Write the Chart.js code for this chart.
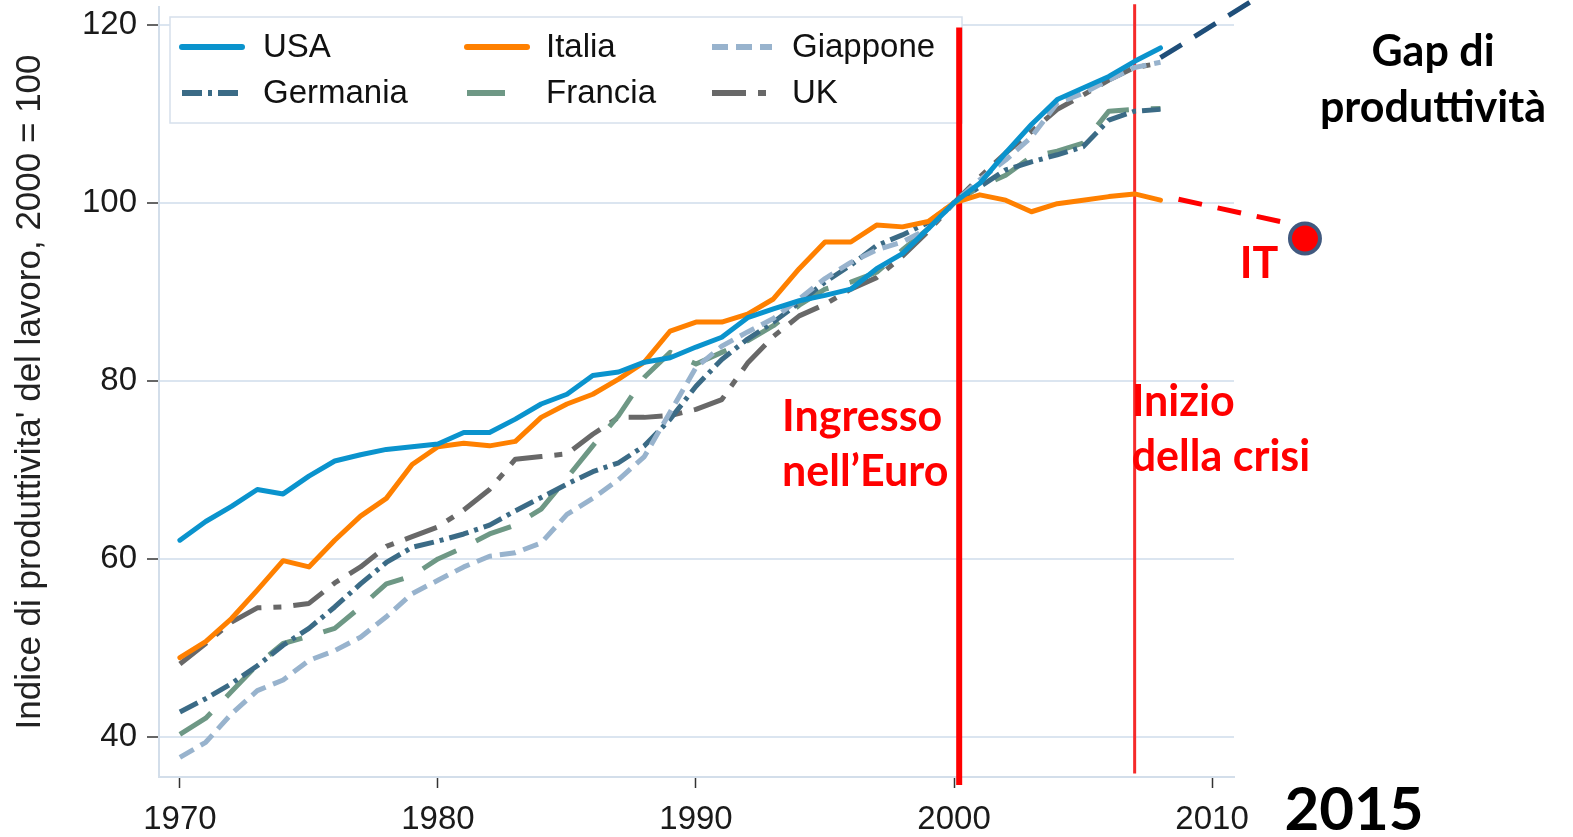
<!DOCTYPE html>
<html><head><meta charset="utf-8">
<script src="https://cdn.jsdelivr.net/npm/chart.js@4.4.1/dist/chart.umd.min.js"></script>
<style>html,body{margin:0;padding:0;background:#fff}#wrap{width:1573px;height:837px;position:relative}</style>
</head><body><div id="wrap"><canvas id="c"></canvas></div>
<script>
// ---- data ----
const years = [1970,1971,1972,1973,1974,1975,1976,1977,1978,1979,1980,1981,1982,1983,1984,1985,1986,1987,1988,1989,1990,1991,1992,1993,1994,1995,1996,1997,1998,1999,2000,2001,2002,2003,2004,2005,2006,2007,2008];
const usa      = [62.1,64.2,65.9,67.8,67.3,69.3,71.0,71.7,72.3,72.6,72.9,74.2,74.2,75.7,77.4,78.5,80.6,81.0,82.1,82.6,83.8,84.9,87.1,88.1,89.0,89.6,90.3,92.6,94.3,97.1,100,102.2,105.6,108.8,111.6,112.9,114.2,115.9,117.4];
const italia   = [48.9,50.7,53.3,56.5,59.8,59.1,62.1,64.8,66.8,70.6,72.6,73.0,72.7,73.2,75.9,77.4,78.5,80.2,82.1,85.6,86.6,86.6,87.5,89.2,92.6,95.6,95.6,97.5,97.3,97.9,100,100.9,100.3,99.0,99.9,100.3,100.7,101.0,100.3];
const giappone = [37.7,39.4,42.6,45.2,46.4,48.6,49.7,51.2,53.5,56.1,57.6,59.1,60.3,60.7,61.8,65.0,66.8,68.9,71.5,76.5,81.5,83.9,85.5,87.0,89.2,91.5,93.3,94.7,95.6,97.1,100,102.6,104.8,107.4,111.2,112.3,113.8,115.2,115.8];
const germania = [42.8,44.3,46.0,48.0,50.3,52.2,54.6,57.2,59.6,61.3,62.0,62.8,63.8,65.4,66.9,68.4,69.8,70.8,72.7,75.7,79.4,82.4,84.7,86.6,88.8,91.1,93.0,95.2,96.4,97.8,100,101.8,103.7,104.6,105.4,106.3,109.3,110.3,110.5];
const francia  = [40.3,42.1,45.1,48.1,50.5,51.3,52.2,54.6,57.2,58.1,60.0,61.3,62.8,63.8,65.6,69.1,72.7,76.1,80.4,83.2,81.9,83.2,84.5,86.2,88.5,90.3,91.1,92.2,94.7,97.1,100,101.8,103.1,105.2,105.8,106.7,110.3,110.5,110.6];
const uk       = [48.2,50.5,52.9,54.5,54.6,55.0,57.3,59.1,61.4,62.5,63.6,65.5,67.8,71.2,71.5,71.8,74.0,75.9,75.9,76.1,76.8,77.9,82.0,85.0,87.3,88.6,90.3,91.6,94.0,96.8,100,102.9,105.6,108.0,110.5,112.1,113.8,115.2,115.7];

const xTicks = [1970,1980,1990,2000,2010];
const yTicks = [40,60,80,100,120];
const yTitle = "Indice di produttivita' del lavoro, 2000 = 100";

// annotation values (data units)
const euroEntryYear = 2000.2, euroSpan = [34.6,119.7];
const crisisYear = 2007, crisisSpan = [35.9,122.3];
const usaTrendX = [2008,2012], usaTrendY = [116.3,123.5];
const itaTrendX = [2008.7,2012.8], itaTrendY = [100.4,97.8];
const itPointX = 2013.6, itPointY = 96.0;
const euroLabel = ['Ingresso','nell\u2019Euro'];
const crisisLabel = ['Inizio','della crisi'];
const gapLabel = ['Gap di','produttivit\u00e0'];
const itLabel = 'IT';
const yearLabel = '2015';

// ---- styling ----
const FONT = "'Liberation Sans', Arial, sans-serif";
const BOLD = "Lato, 'Open Sans', sans-serif";
const series = [
  {name:'USA', values:usa, color:'#0a93cd', dash:[]},
  {name:'Italia', values:italia, color:'#ff8000', dash:[]},
  {name:'Giappone', values:giappone, color:'#98b3cd', dash:[16,8]},
  {name:'Germania', values:germania, color:'#3b6b86', dash:[20,6,4,6]},
  {name:'Francia', values:francia, color:'#6e9885', dash:[38,22]},
  {name:'UK', values:uk, color:'#686868', dash:[34,12,8,12]}
];

const datasets = series.map(s => ({
  label:s.name, inLegend:true,
  data: years.map((y,i)=>({x:y, y:s.values[i]})),
  borderColor:s.color, borderWidth:5, borderDash:s.dash,
  borderCapStyle: s.dash.length ? 'butt' : 'round', borderJoinStyle:'round',
  pointRadius:0, tension:0, fill:false
}));
datasets.push(
  {label:'euro', data:euroSpan.map(v=>({x:euroEntryYear,y:v})), borderColor:'#ff0000', borderWidth:6, pointRadius:0, clip:false},
  {label:'crisi', data:crisisSpan.map(v=>({x:crisisYear,y:v})), borderColor:'#f52a2a', borderWidth:3, pointRadius:0, clip:false},
  {label:'usaTrend', data:usaTrendX.map((x,i)=>({x, y:usaTrendY[i]})), borderColor:'#1f4e79', borderWidth:5, borderDash:[25,15], pointRadius:0, clip:false},
  {label:'itaTrend', data:itaTrendX.map((x,i)=>({x, y:itaTrendY[i]})), borderColor:'#ff0000', borderWidth:5, borderDash:[24,16], pointRadius:0, clip:false}
);

const annot = {
  id:'annot',
  beforeDatasetsDraw(chart){
    const ctx = chart.ctx;
    ctx.save();
    ctx.fillStyle = '#fff';
    ctx.strokeStyle = '#d6e0ec';
    ctx.lineWidth = 1.5;
    ctx.fillRect(170,17,792,106);
    ctx.strokeRect(170,17,792,106);
    const cols = [[182,263],[467,546],[712,792]];
    const rows = [47,93];
    const items = chart.data.datasets.filter(d=>d.inLegend);
    items.forEach((d,i)=>{
      const c = cols[i%3], r = rows[Math.floor(i/3)];
      ctx.beginPath();
      ctx.setLineDash(d.borderDash||[]);
      ctx.lineCap = d.borderCapStyle;
      ctx.strokeStyle = d.borderColor;
      ctx.lineWidth = 6;
      ctx.moveTo(c[0], r); ctx.lineTo(c[0]+60, r);
      ctx.stroke();
      ctx.setLineDash([]);
      ctx.fillStyle = '#111';
      ctx.font = `33px ${FONT}`;
      ctx.textBaseline = 'middle';
      ctx.textAlign = 'left';
      ctx.fillText(d.label, c[1], r+1);
    });
    ctx.restore();
  },
  afterDatasetsDraw(chart){
    const ctx = chart.ctx;
    const px = chart.scales.x.getPixelForValue(itPointX);
    const py = chart.scales.y.getPixelForValue(itPointY);
    ctx.save();
    ctx.beginPath();
    ctx.arc(px, py, 15, 0, Math.PI*2);
    ctx.fillStyle = '#ff0000';
    ctx.fill();
    ctx.lineWidth = 4;
    ctx.strokeStyle = '#41597f';
    ctx.stroke();
    ctx.restore();
  },
  afterDraw(chart){
    const ctx = chart.ctx;
    const xs = chart.scales.x;
    ctx.save();
    ctx.textAlign = 'left';
    ctx.textBaseline = 'alphabetic';
    ctx.fillStyle = '#ff0000';
    ctx.font = `bold 43px ${BOLD}`;
    ctx.fillText(euroLabel[0], 782, 431);
    ctx.fillText(euroLabel[1], 782, 486);
    const cx = xs.getPixelForValue(crisisYear) - 3;
    ctx.fillText(crisisLabel[0], cx, 416);
    ctx.fillText(crisisLabel[1], cx, 471);
    ctx.textAlign = 'center';
    ctx.fillText(itLabel, 1259, 278);
    ctx.fillStyle = '#000';
    ctx.fillText(gapLabel[0], 1433, 66);
    ctx.fillText(gapLabel[1], 1433, 122);
    ctx.font = `bold 60px ${BOLD}`;
    ctx.fillText(yearLabel, 1354, 830);
    ctx.restore();
  }
};

new Chart(document.getElementById('c'), {
  type:'line',
  data:{datasets},
  options:{
    responsive:true, maintainAspectRatio:false, animation:false, events:[],
    layout:{autoPadding:false, padding:{left:0,right:339,top:7,bottom:0}},
    plugins:{legend:{display:false}, tooltip:{enabled:false}},
    scales:{
      x:{
        type:'linear', min:1969.19, max:2010.85,
        afterBuildTicks:s=>{s.ticks = xTicks.map(v=>({value:v}));},
        afterFit:s=>{s.height = 60; s.paddingLeft = 0; s.paddingRight = 0; s.paddingTop = 0; s.paddingBottom = 0;},
        grid:{drawOnChartArea:false, drawTicks:true, tickLength:11, tickColor:'#333', tickWidth:1.5},
        border:{color:'#d3deea', width:2},
        ticks:{font:{family:FONT,size:33}, color:'#1a1a1a', padding:12, maxRotation:0, callback:v=>String(v)}
      },
      y:{
        min:35.5, max:122,
        afterBuildTicks:s=>{s.ticks = yTicks.map(v=>({value:v}));},
        afterFit:s=>{s.width = 159; s.paddingTop = 0; s.paddingBottom = 0; s.paddingLeft = 0; s.paddingRight = 0;},
        grid:{color:'#dbe5f0', lineWidth:2, tickColor:'#333', tickLength:12, tickWidth:1.5},
        border:{color:'#d3deea', width:2},
        ticks:{font:{family:FONT,size:33}, color:'#1a1a1a', padding:10, callback:v=>String(v)},
        title:{display:true, text:yTitle, font:{family:FONT,size:35}, color:'#222', padding:{top:9,bottom:0}}
      }
    }
  },
  plugins:[annot]
});
</script></body></html>
